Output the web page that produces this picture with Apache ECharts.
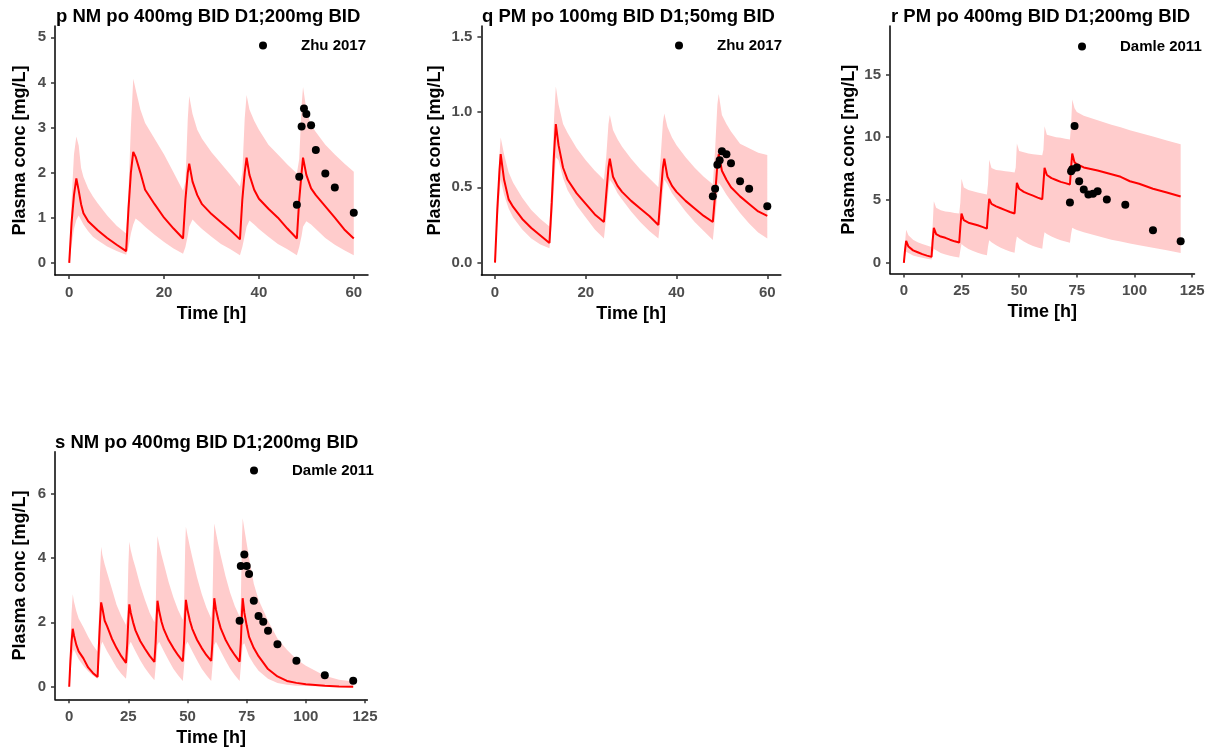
<!DOCTYPE html>
<html>
<head>
<meta charset="utf-8">
<title>Plasma concentration-time profiles</title>
<script src="https://cdn.jsdelivr.net/npm/echarts@6/dist/echarts.min.js"></script>
<style>
  html, body { margin: 0; padding: 0; background: #ffffff; }
  #chart { width: 1215px; height: 751px; }
</style>
</head>
<body>
<div id="chart"></div>
<script>
// ---- Panel p: NM po 400mg BID D1;200mg BID (Zhu 2017) ----
const pTime = [0, 0.5, 1, 1.5, 2, 2.5, 3, 4, 5, 6, 8, 10, 12,
  12.5, 13, 13.5, 14, 15, 16, 18, 20, 22, 24,
  24.5, 25, 25.3, 26, 27, 28, 30, 32, 34, 36,
  36.5, 37, 37.4, 38, 39, 40, 42, 44, 46, 48,
  48.5, 49, 49.3, 50, 51, 52, 54, 56, 58, 60];
const pMedian = [0, 0.9, 1.5, 1.87, 1.6, 1.3, 1.1, 0.92, 0.82, 0.72, 0.55, 0.4, 0.26,
  1.2, 2.0, 2.46, 2.35, 2.0, 1.62, 1.3, 1.0, 0.76, 0.54,
  1.4, 2.0, 2.2, 1.8, 1.5, 1.3, 1.08, 0.9, 0.72, 0.52,
  1.4, 2.0, 2.33, 1.95, 1.62, 1.42, 1.2, 1.0, 0.76, 0.54,
  1.4, 2.0, 2.33, 1.95, 1.65, 1.5, 1.25, 1.0, 0.74, 0.54];
const pUpper = [0, 1.4, 2.4, 2.8, 2.6, 2.1, 1.9, 1.65, 1.47, 1.32, 1.05, 0.82, 0.65,
  1.6, 3.0, 4.08, 3.85, 3.4, 3.1, 2.75, 2.4, 2.0, 1.6,
  1.8, 3.2, 3.7, 3.3, 2.95, 2.75, 2.45, 2.2, 1.95, 1.69,
  2.0, 3.2, 3.72, 3.4, 3.15, 2.95, 2.62, 2.4, 2.18, 1.98,
  2.3, 3.5, 3.9, 3.4, 3.05, 2.9, 2.62, 2.4, 2.2, 2.02];
const pLower = [0, 0.4, 0.75, 0.95, 1.05, 0.95, 0.85, 0.7, 0.58, 0.5, 0.36, 0.26, 0.18,
  0.35, 0.65, 0.85, 0.98, 0.9, 0.8, 0.62, 0.46, 0.32, 0.2,
  0.35, 0.6, 0.8, 0.96, 0.85, 0.75, 0.58, 0.42, 0.3, 0.17,
  0.35, 0.6, 0.8, 0.94, 0.85, 0.75, 0.58, 0.42, 0.3, 0.17,
  0.35, 0.6, 0.8, 0.92, 0.85, 0.75, 0.55, 0.4, 0.28, 0.17];
const pObsTime = [48, 48.5, 49, 49.5, 50, 51, 52, 54, 56, 60];
const pObsConc = [1.29, 1.91, 3.02, 3.42, 3.30, 3.05, 2.50, 1.98, 1.67, 1.11];

// ---- Panel q: PM po 100mg BID D1;50mg BID (Zhu 2017) ----
const qTime = [0, 0.5, 1, 1.25, 2, 3, 4, 6, 8, 10, 12,
  12.5, 13, 13.4, 14, 15, 16, 18, 20, 22, 24,
  24.5, 25, 25.3, 26, 27, 28, 30, 32, 34, 36,
  36.5, 37, 37.3, 38, 39, 40, 42, 44, 46, 48,
  48.5, 49, 49.3, 50, 51, 52, 54, 56, 58, 60];
const qMedian = [0, 0.35, 0.62, 0.72, 0.55, 0.42, 0.37, 0.29, 0.23, 0.18, 0.13,
  0.4, 0.72, 0.92, 0.78, 0.63, 0.55, 0.46, 0.39, 0.32, 0.27,
  0.45, 0.63, 0.69, 0.57, 0.51, 0.47, 0.41, 0.36, 0.31, 0.25,
  0.45, 0.63, 0.69, 0.57, 0.51, 0.47, 0.41, 0.36, 0.31, 0.27,
  0.45, 0.65, 0.72, 0.61, 0.55, 0.5, 0.44, 0.39, 0.34, 0.31];
const qUpper = [0, 0.4, 0.72, 0.83, 0.72, 0.6, 0.53, 0.43, 0.35, 0.29, 0.24,
  0.55, 0.95, 1.17, 1.05, 0.92, 0.86, 0.76, 0.68, 0.61, 0.55,
  0.7, 0.92, 0.98, 0.88, 0.82, 0.77, 0.69, 0.62, 0.56, 0.5,
  0.7, 0.93, 0.99, 0.9, 0.83, 0.78, 0.7, 0.63, 0.57, 0.52,
  0.75, 1.05, 1.12, 0.98, 0.92, 0.87, 0.79, 0.76, 0.73, 0.715];
const qLower = [0, 0.25, 0.45, 0.55, 0.45, 0.36, 0.3, 0.22, 0.16, 0.12, 0.095,
  0.25, 0.5, 0.7, 0.68, 0.56, 0.48, 0.38, 0.3, 0.22, 0.16,
  0.3, 0.48, 0.55, 0.52, 0.46, 0.42, 0.34, 0.27, 0.21, 0.16,
  0.3, 0.48, 0.55, 0.52, 0.46, 0.42, 0.34, 0.27, 0.21, 0.15,
  0.3, 0.45, 0.53, 0.5, 0.45, 0.41, 0.33, 0.26, 0.2, 0.16];
const qObsTime = [48, 48.5, 49, 49.5, 50, 51, 52, 54, 56, 60];
const qObsConc = [0.44, 0.49, 0.65, 0.68, 0.74, 0.72, 0.66, 0.54, 0.49, 0.375];

// ---- Panel r: PM po 400mg BID D1;200mg BID (Damle 2011) ----
const rTime = [0, 0.5, 1, 2, 4, 6, 8, 10, 12,
  12.5, 13, 14, 16, 18, 20, 22, 24,
  24.5, 25, 26, 28, 30, 32, 34, 36,
  36.5, 37, 38, 40, 42, 44, 46, 48,
  48.5, 49, 50, 52, 54, 56, 58, 60,
  60.5, 61, 62, 64, 66, 68, 70, 72,
  72.5, 73, 74, 75, 78, 84, 90, 94, 98, 102, 108, 114, 120];
const rMedian = [0, 1.0, 1.75, 1.3, 1.0, 0.85, 0.7, 0.58, 0.48,
  1.8, 2.79, 2.3, 2.1, 2.0, 1.85, 1.72, 1.62,
  2.9, 3.93, 3.4, 3.2, 3.1, 3.0, 2.87, 2.73,
  4.0, 5.1, 4.7, 4.5, 4.35, 4.2, 4.05, 3.93,
  5.2, 6.37, 5.9, 5.65, 5.5, 5.35, 5.2, 5.07,
  6.3, 7.56, 7.0, 6.75, 6.6, 6.45, 6.35, 6.24,
  7.6, 8.7, 8.0, 7.85, 7.6, 7.35, 7.05, 6.85, 6.5, 6.3, 5.9, 5.6, 5.28];
const rUpper = [0, 1.6, 2.65, 2.2, 1.85, 1.65, 1.5, 1.38, 1.27,
  3.0, 4.9, 4.4, 4.2, 4.1, 4.05, 3.98, 3.93,
  4.8, 6.7, 6.0, 5.8, 5.7, 5.6, 5.52, 5.44,
  6.3, 8.2, 7.55, 7.4, 7.35, 7.3, 7.25, 7.19,
  7.6, 9.5, 8.9, 8.8, 8.7, 8.65, 8.6, 8.57,
  9.0, 10.88, 10.2, 10.1, 10.0, 9.95, 9.88, 9.82,
  11.0, 13.0, 12.3, 12.0, 11.7, 11.35, 11.0, 10.8, 10.55, 10.35, 10.05, 9.75, 9.45];
const rLower = [0, 0.5, 0.9, 0.8, 0.6, 0.5, 0.42, 0.34, 0.28,
  0.7, 1.1, 1.0, 0.8, 0.68, 0.58, 0.5, 0.43,
  1.0, 1.5, 1.35, 1.1, 0.95, 0.82, 0.7, 0.61,
  1.3, 1.8, 1.65, 1.4, 1.2, 1.05, 0.92, 0.82,
  1.6, 2.1, 1.95, 1.7, 1.5, 1.35, 1.22, 1.12,
  1.9, 2.45, 2.3, 2.1, 1.95, 1.8, 1.7, 1.6,
  2.3, 2.8, 2.7, 2.62, 2.45, 2.15, 1.85, 1.7, 1.55, 1.4, 1.2, 1.0, 0.8];
const rObsTime = [72, 72.5, 73, 74, 75, 76, 78, 80, 82, 84, 88, 96, 108, 120];
const rObsConc = [4.8, 7.3, 7.45, 10.9, 7.6, 6.5, 5.85, 5.45, 5.5, 5.7, 5.05, 4.62, 2.6, 1.72];

// ---- Panel s: NM po 400mg BID D1;200mg BID (Damle 2011) ----
const sTime = [0, 0.5, 1, 1.5, 2, 3, 4, 6, 8, 10, 12,
  12.5, 13, 13.5, 14, 15, 16, 18, 20, 22, 24,
  24.5, 25, 25.4, 26, 27, 28, 30, 32, 34, 36,
  36.5, 37, 37.3, 38, 39, 40, 42, 44, 46, 48,
  48.5, 49, 49.3, 50, 51, 52, 54, 56, 58, 60,
  60.5, 61, 61.3, 62, 63, 64, 66, 68, 70, 72,
  72.5, 73, 73.3, 74, 75, 76, 78, 80, 84, 88, 92, 96, 100, 108, 114, 120];
const sMedian = [0, 0.8, 1.4, 1.8, 1.6, 1.3, 1.1, 0.88, 0.6, 0.43, 0.3,
  1.2, 2.0, 2.62, 2.45, 2.05, 1.88, 1.5, 1.2, 0.95, 0.74,
  1.3, 2.1, 2.56, 2.3, 2.0, 1.75, 1.42, 1.18, 0.96, 0.77,
  1.35, 2.2, 2.67, 2.35, 2.02, 1.78, 1.45, 1.2, 0.98, 0.79,
  1.35, 2.25, 2.7, 2.38, 2.05, 1.8, 1.46, 1.2, 0.98, 0.8,
  1.35, 2.3, 2.75, 2.4, 2.08, 1.82, 1.47, 1.2, 0.98, 0.78,
  1.35, 2.3, 2.75, 2.3, 1.9, 1.55, 1.2, 0.95, 0.55, 0.32, 0.18, 0.12, 0.08, 0.03, 0.01, 0.0];
const sUpper = [0, 1.3, 2.3, 2.87, 2.65, 2.35, 2.12, 1.85, 1.55, 1.3, 1.09,
  2.0, 3.5, 4.35, 4.1, 3.8, 3.55, 3.05, 2.55, 2.2, 1.92,
  2.2, 3.8, 4.5, 4.25, 3.95, 3.7, 3.15, 2.7, 2.3, 2.0,
  2.3, 4.0, 4.68, 4.42, 4.1, 3.82, 3.25, 2.78, 2.38, 2.08,
  2.4, 4.3, 4.97, 4.7, 4.35, 4.02, 3.4, 2.88, 2.45, 2.12,
  2.5, 4.4, 5.07, 4.8, 4.42, 4.08, 3.45, 2.92, 2.5, 2.18,
  2.6, 4.6, 5.23, 4.9, 4.45, 4.0, 3.2, 2.7, 2.05, 1.5, 1.15, 0.85, 0.65, 0.34, 0.22, 0.16];
const sLower = [0, 0.4, 0.8, 1.05, 1.15, 1.0, 0.85, 0.65, 0.48, 0.35, 0.25,
  0.6, 1.0, 1.3, 1.4, 1.25, 1.1, 0.85, 0.6, 0.4, 0.25,
  0.6, 1.0, 1.3, 1.4, 1.25, 1.1, 0.82, 0.58, 0.38, 0.2,
  0.6, 1.0, 1.3, 1.4, 1.25, 1.1, 0.82, 0.56, 0.36, 0.18,
  0.6, 1.0, 1.3, 1.4, 1.25, 1.1, 0.82, 0.56, 0.36, 0.18,
  0.6, 1.0, 1.3, 1.4, 1.25, 1.1, 0.82, 0.56, 0.36, 0.18,
  0.6, 1.0, 1.3, 1.35, 1.15, 0.95, 0.7, 0.5, 0.25, 0.12, 0.06, 0.03, 0.02, 0.01, 0.0, 0.0];
const sObsTime = [72, 72.5, 74, 75, 76, 78, 80, 82, 84, 88, 96, 108, 120];
const sObsConc = [2.05, 3.75, 4.11, 3.75, 3.5, 2.67, 2.2, 2.02, 1.74, 1.32, 0.81, 0.36, 0.19];

// ---- Titles, legends and axis ticks ----
const panelTitles = [
  'p NM po 400mg BID D1;200mg BID',
  'q PM po 100mg BID D1;50mg BID',
  'r PM po 400mg BID D1;200mg BID',
  's NM po 400mg BID D1;200mg BID'
];
const studyNames = ['Zhu 2017', 'Zhu 2017', 'Damle 2011', 'Damle 2011'];
const xTicksShort = [0, 20, 40, 60];
const xTicksLong = [0, 25, 50, 75, 100, 125];
const yTicksP = [0, 1, 2, 3, 4, 5];
const yTicksQ = [0, 0.5, 1.0, 1.5];
const yTicksR = [0, 5, 10, 15];
const yTicksS = [0, 2, 4, 6];
const xAxisTitle = 'Time [h]';
const yAxisTitle = 'Plasma conc [mg/L]';

const FONT = "'Liberation Sans', Arial, Helvetica, sans-serif";
const BAND = '#FFCCCC';
const LINE = '#FF0000';

// Panel layout: plot rectangle, axis ranges and label spacing
const panels = [
  { t: pTime, med: pMedian, lo: pLower, hi: pUpper, ot: pObsTime, oc: pObsConc,
    grid: { left: 55, top: 26, width: 313, height: 249 },
    x: [-3, 63], y: [-0.27, 5.25], xt: xTicksShort, yt: yTicksP, dec: 0,
    yGap: 26, title: [56, 7], legend: [259, 38] },
  { t: qTime, med: qMedian, lo: qLower, hi: qUpper, ot: qObsTime, oc: qObsConc,
    grid: { left: 481.4, top: 26, width: 299.5, height: 249 },
    x: [-3, 63], y: [-0.082, 1.571], xt: xTicksShort, yt: yTicksQ, dec: 1,
    yGap: 37, title: [482, 7], legend: [675, 38] },
  { t: rTime, med: rMedian, lo: rLower, hi: rUpper, ot: rObsTime, oc: rObsConc,
    grid: { left: 890, top: 26, width: 304.5, height: 247.5 },
    x: [-6, 126], y: [-0.84, 18.85], xt: xTicksLong, yt: yTicksR, dec: 0,
    yGap: 32, title: [891, 7], legend: [1078, 39] },
  { t: sTime, med: sMedian, lo: sLower, hi: sUpper, ot: sObsTime, oc: sObsConc,
    grid: { left: 55, top: 451.7, width: 312.4, height: 247.6 },
    x: [-6, 126], y: [-0.39, 7.3], xt: xTicksLong, yt: yTicksS, dec: 0,
    yGap: 26, title: [55, 433], legend: [250, 463] }
];

const zip = (a, b) => a.map((v, i) => [v, b[i]]);

const grids = [], xAxes = [], yAxes = [], series = [], titles = [], legends = [];

panels.forEach((pn, i) => {
  grids.push(Object.assign({ containLabel: false }, pn.grid));

  xAxes.push({
    type: 'value', gridIndex: i, min: pn.x[0], max: pn.x[1],
    name: xAxisTitle, nameLocation: 'middle', nameGap: 30,
    nameTextStyle: { fontFamily: FONT, fontWeight: 'bold', fontSize: 18, color: '#000' },
    splitLine: { show: false },
    axisLine: { show: true, onZero: false, lineStyle: { color: '#000', width: 1.5 } },
    axisTick: { show: true, length: 4, customValues: pn.xt, lineStyle: { color: '#333', width: 1.5 } },
    axisLabel: { customValues: pn.xt, margin: 10, color: '#4D4D4D', fontFamily: FONT,
      fontWeight: 'bold', fontSize: 15 }
  });

  yAxes.push({
    type: 'value', gridIndex: i, min: pn.y[0], max: pn.y[1],
    name: yAxisTitle, nameLocation: 'middle', nameRotate: 90, nameGap: pn.yGap,
    nameTextStyle: { fontFamily: FONT, fontWeight: 'bold', fontSize: 18, color: '#000' },
    splitLine: { show: false },
    axisLine: { show: true, onZero: false, lineStyle: { color: '#000', width: 1.5 } },
    axisTick: { show: true, length: 4, customValues: pn.yt, lineStyle: { color: '#333', width: 1.5 } },
    axisLabel: { customValues: pn.yt, margin: 9, color: '#4D4D4D', fontFamily: FONT,
      fontWeight: 'bold', fontSize: 15,
      formatter: v => (pn.dec ? Number(v).toFixed(pn.dec) : String(Math.round(v))) }
  });

  // Prediction band as a filled polygon (upper edge forward, lower edge back)
  series.push({
    type: 'custom', xAxisIndex: i, yAxisIndex: i, silent: true, z: 1,
    data: [[pn.t[0], pn.hi[0]]],
    renderItem: (params, api) => {
      const pts = [];
      for (let k = 0; k < pn.t.length; k++) pts.push(api.coord([pn.t[k], pn.hi[k]]));
      for (let k = pn.t.length - 1; k >= 0; k--) pts.push(api.coord([pn.t[k], pn.lo[k]]));
      return { type: 'polygon', shape: { points: pts }, style: { fill: BAND } };
    }
  });

  // Simulated median profile
  series.push({
    type: 'line', xAxisIndex: i, yAxisIndex: i, z: 3, silent: true,
    data: zip(pn.t, pn.med), showSymbol: false, symbol: 'none',
    lineStyle: { color: LINE, width: 2 }
  });

  // Observed concentrations
  series.push({
    name: studyNames[i], type: 'scatter', xAxisIndex: i, yAxisIndex: i, z: 4,
    data: zip(pn.ot, pn.oc), symbol: 'circle', symbolSize: 8,
    itemStyle: { color: '#000', opacity: 1 }
  });

  titles.push({
    text: panelTitles[i], left: pn.title[0], top: pn.title[1], padding: 0,
    textStyle: { fontFamily: FONT, fontWeight: 'bold', fontSize: 18.5, color: '#000' }
  });

  legends.push({
    data: [studyNames[i]], left: pn.legend[0], top: pn.legend[1], padding: 0,
    selectedMode: false, icon: 'circle', itemWidth: 66, itemHeight: 8, itemGap: 5,
    itemStyle: { opacity: 1 },
    textStyle: { fontFamily: FONT, fontWeight: 'bold', fontSize: 15, color: '#000' }
  });
});

const chart = echarts.init(document.getElementById('chart'), null, { renderer: 'canvas' });
chart.setOption({
  backgroundColor: '#ffffff',
  animation: false,
  title: titles,
  legend: legends,
  grid: grids,
  xAxis: xAxes,
  yAxis: yAxes,
  series: series
});
</script>
</body>
</html>
